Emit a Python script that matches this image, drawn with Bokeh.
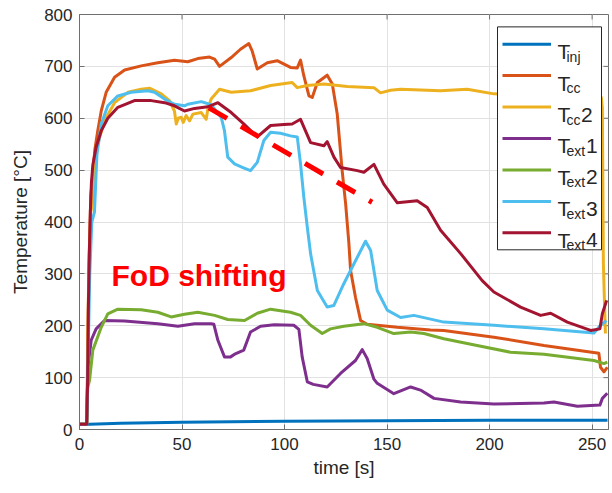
from bokeh.plotting import figure
from bokeh.models import Range1d, Label, ColumnDataSource, FixedTicker, BoxAnnotation
from bokeh.embed import file_html
from bokeh.resources import INLINE

FONT = "Liberation Sans"

# ---------------- data ----------------
x_ticks = [0, 50, 100, 150, 200, 250]
y_ticks = [0, 100, 200, 300, 400, 500, 600, 700, 800]

t_inj = [0, 5, 20, 50, 100, 150, 200, 257.5]
T_inj = [10, 10, 12, 14, 16, 17, 18, 18]

t_cc = [0, 3.5, 4.0, 4.5, 5.5, 6.5, 7.5, 8.9, 10.6, 13.0, 17.1, 22.0, 30.1, 38.2, 46.3, 52.8, 57.7,
        63.4, 65.9, 68.3, 74.0, 78.5, 82.6, 84.2, 86.7, 91.6, 96.4, 102.9, 106.2, 107.8, 109.4, 111.9,
        113.5, 116.0, 120.8, 123.3, 125.7, 128.1, 129.8, 131.4, 132.2, 134.6, 137.1, 140.3, 155.0,
        171.2, 177.7, 202.1, 226.5, 253.3, 254.1, 255.8, 257.4]
T_cc = [10, 10, 120, 300, 450, 493, 540, 576, 614, 650, 679, 693, 701, 707, 712, 709, 715,
        718, 714, 700, 717, 733, 744, 730, 695, 707, 711, 698, 697, 712, 682, 643,
        640, 669, 683, 666, 608, 499, 435, 358, 307, 255, 210, 203, 197,
        192, 191, 178, 162, 147, 120, 111, 120]

t_cc2 = [0, 3.5, 3.8, 4.5, 5.5, 6.5, 7.5, 8.9, 12.2, 17.1, 23.6, 30.1, 34.1, 39.9, 43.9, 46.3, 47.2,
         48.2, 49.6, 50.6, 52.0, 53.7, 55.3, 59.4, 61.8, 62.6, 64.2, 68.3, 74.0, 83.4, 93.2, 103.7,
         106.2, 111.1, 119.2, 130.6, 143.6, 146.8, 151.7, 156.6, 176.1, 189.1, 202.1, 215, 235,
         254.5, 255.0, 255.5, 256.0, 256.5]
T_cc2 = [10, 10, 100, 300, 420, 440, 530, 550, 595, 630, 650, 656, 658, 647, 634, 614, 589,
         600, 602, 592, 605, 595, 608, 611, 598, 618, 637, 656, 650, 653, 663, 669,
         659, 663, 666, 661, 659, 649, 654, 656, 653, 656, 647, 645, 642,
         640, 620, 320, 250, 185]

t_ext1 = [0, 3.5, 4.0, 4.1, 5.7, 8.1, 12.2, 22, 38.2, 48, 56.1, 64.2, 65.5, 67.5, 70.7, 73.7, 76,
          80.1, 83.4, 88.3, 95, 104.5, 107, 108.6, 111.1, 114, 120.8, 127.3, 134.6, 137.9, 140.3,
          143.6, 145.2, 153.3, 161.5, 166.3, 172.9, 185.9, 202.1, 226.5, 231.4, 242.8, 253.8,
          255, 257.4]
T_ext1 = [10, 10, 100, 120, 172, 194, 210, 209, 204, 199, 204, 204, 203, 172, 140, 140, 146,
          153, 188, 199, 202, 201, 193, 140, 92, 87, 82, 108, 133, 154, 137,
          97, 89, 69, 82, 76, 60, 53, 49, 51, 53, 45, 47,
          60, 70]

t_ext2 = [0, 3.5, 4.0, 4.9, 6.5, 10.6, 13.8, 18.7, 30.1, 38.2, 44.7, 51.2, 57.7, 65.9, 72.3, 80.5,
          86.7, 93.2, 102.9, 107.8, 112.7, 118.4, 122.4, 128.9, 138.7, 145.2, 153.3, 161.5, 168,
          177.7, 193.9, 210.2, 226.5, 250.9, 255.8, 257.4]
T_ext2 = [10, 10, 80, 95, 153, 197, 223, 232, 231, 226, 217, 222, 226, 220, 212, 210,
          224, 232, 226, 220, 201, 185, 194, 199, 204, 197, 185, 188, 185,
          175, 162, 149, 145, 133, 127, 130]

t_ext3 = [0, 3.5, 4.0, 5.0, 6.0, 7.3, 8.5, 10.6, 13.8, 18.7, 25.2, 33.3, 36.6, 41.5, 46.3, 51.2,
          52.8, 59.4, 64.2, 69.1, 70.7, 72.3, 75.6, 79.7, 83.4, 86.7, 89.9, 93.2, 98, 102.9, 106.2,
          107.8, 109.4, 111.1, 112.7, 116, 120.8, 124, 128.9, 133.8, 139.5, 142, 145.2, 150.1,
          156.6, 163.1, 177.7, 202.1, 226.5, 250.9, 254.1, 257]
T_ext3 = [10, 10, 100, 300, 400, 419, 530, 589, 624, 643, 650, 653, 650, 637, 627, 624,
          627, 632, 626, 602, 576, 525, 512, 505, 499, 515, 557, 573, 571, 566, 564,
          512, 448, 390, 339, 268, 236, 239, 281, 319, 363, 345, 268, 230,
          216, 220, 207, 201, 194, 186, 201, 210]

t_ext4 = [0, 3.5, 4.0, 4.3, 4.8, 5.3, 5.8, 6.5, 8.1, 10.6, 13.8, 18.7, 26.8, 35, 41.5, 46.3, 51.2,
          56.1, 62.6, 67.5, 74, 80.1, 86.7, 93.2, 99.7, 103.7, 107.8, 112.7, 119.2, 120.8, 124.1,
          127.3, 135.5, 138.7, 143.6, 148.4, 155, 164.7, 169.6, 176.1, 185.9, 196.4, 202.1, 215.1,
          224.9, 229.8, 237.9, 249.3, 253.8, 255, 257.1]
T_ext4 = [10, 10, 100, 230, 340, 420, 475, 510, 544, 576, 600, 621, 634, 634, 630, 624, 614,
          619, 622, 630, 611, 589, 564, 586, 588, 589, 598, 553, 547, 555, 525,
          505, 499, 496, 511, 473, 437, 441, 428, 384, 339, 287, 265, 236,
          220, 224, 207, 191, 194, 223, 249]

series_t = [t_inj, t_cc, t_cc2, t_ext1, t_ext2, t_ext3, t_ext4]
series_T = [T_inj, T_cc, T_cc2, T_ext1, T_ext2, T_ext3, T_ext4]
series_colors = ["#0072BD", "#D95319", "#EDB120", "#7E2F8E", "#77AC30", "#4DBEEE", "#A2142F"]
legend_subs = ["inj", "cc", "cc", "ext", "ext", "ext", "ext"]
legend_suffix = ["", "", "2", "1", "2", "3", "4"]

fod_t = [63.1, 142.7]
fod_T = [620, 438]
fod_text = "FoD shifting"

# ---------------- figure ----------------
X0, X1 = 0, 258
Y0, Y1 = 0, 800
p = figure(width=612, height=493, x_range=Range1d(X0, X1), y_range=Range1d(Y0, Y1),
           output_backend="svg", toolbar_location=None,
           min_border_left=79, min_border_right=4, min_border_top=14, min_border_bottom=64,
           background_fill_color="white", border_fill_color="white")

AX = "#6f6f6f"
TXT = "#262626"
p.outline_line_color = AX
p.outline_line_width = 1

for ax in (p.xaxis[0], p.yaxis[0]):
    ax.axis_line_color = AX
    ax.major_tick_line_color = AX
    ax.major_tick_in = 5
    ax.major_tick_out = 0
    ax.minor_tick_line_color = None
    ax.major_label_text_font = FONT
    ax.major_label_text_font_size = "17px"
    ax.major_label_text_color = TXT
    ax.axis_label_text_font = FONT
    ax.axis_label_text_font_size = "19px"
    ax.axis_label_text_font_style = "normal"
    ax.axis_label_text_color = TXT

p.xaxis.ticker = FixedTicker(ticks=x_ticks)
p.yaxis.ticker = FixedTicker(ticks=y_ticks)
p.xaxis.axis_label = "time [s]"
p.yaxis.axis_label = "Temperature [°C]"
p.xaxis.major_label_standoff = 8
p.yaxis.major_label_standoff = 7
p.xaxis.axis_label_standoff = 4
p.yaxis.axis_label_standoff = 10

p.xgrid.ticker = FixedTicker(ticks=x_ticks)
p.ygrid.ticker = FixedTicker(ticks=y_ticks)
for g in (p.xgrid[0], p.ygrid[0]):
    g.grid_line_color = "#e2e2e2"
    g.grid_line_width = 1

# inward tick marks on the right and top sides of the box (5 px long)
px_per_s = 529.0 / (X1 - X0)
px_per_deg = 415.7 / (Y1 - Y0)
rt = [v for v in y_ticks if Y0 < v < Y1]
tt_ = [v for v in x_ticks if X0 < v < X1]
p.segment(x0=[X1 - 5 / px_per_s] * len(rt), x1=[X1] * len(rt), y0=rt, y1=rt,
          line_color=AX, line_width=1)
p.segment(x0=tt_, x1=tt_, y0=[Y1 - 5 / px_per_deg] * len(tt_), y1=[Y1] * len(tt_),
          line_color=AX, line_width=1)

for tt, TT, c in zip(series_t, series_T, series_colors):
    p.line(tt, TT, line_color=c, line_width=3, line_join="round")

# red dashed trend line and annotation
p.line(fod_t, fod_T, line_color="#FF0000", line_width=5, line_dash="21 16", line_cap="butt")

# pixel -> data helpers (frame spans px 79..608 and 13.6..429.3 of the page)
def dx(px):
    return X0 + (px - 79.0) * (X1 - X0) / (608.0 - 79.0)

def dy(py):
    return Y0 + (429.3 - py) * (Y1 - Y0) / (429.3 - 13.6)

p.add_layout(Label(x=dx(111), y=dy(275), text=fod_text, text_font=FONT, text_font_size="30px",
                   text_font_style="bold", text_color="#FF0000", text_baseline="alphabetic"))

# ---------------- legend (box, samples, TeX-like labels) ----------------
p.add_layout(BoxAnnotation(left=dx(497), right=dx(601), top=dy(26), bottom=dy(249.3),
                           fill_color="white", fill_alpha=1.0, line_color=TXT, line_width=1,
                           line_alpha=1.0))
ly = [43.3 + i * 31.5 for i in range(len(series_colors))]
seg_src = ColumnDataSource(dict(x0=[dx(502)] * len(ly), x1=[dx(550.5)] * len(ly),
                                y=[dy(v) for v in ly], c=series_colors))
r = p.segment(x0="x0", x1="x1", y0="y", y1="y", line_color="c", line_width=3, source=seg_src)
r.level = "overlay"

for yy, sub, suf in zip(ly, legend_subs, legend_suffix):
    p.add_layout(Label(x=dx(557), y=dy(yy + 7.5), text="T", text_font=FONT, text_font_size="21px",
                       text_color=TXT, text_baseline="alphabetic", level="overlay"))
    p.add_layout(Label(x=dx(566), y=dy(yy + 12.5), text=sub, text_font=FONT, text_font_size="14px",
                       text_color=TXT, text_baseline="alphabetic", level="overlay"))
    if suf:
        sx = 580.5 if sub == "cc" else 585.5
        p.add_layout(Label(x=dx(sx), y=dy(yy + 7.5), text=suf, text_font=FONT, text_font_size="21px",
                           text_color=TXT, text_baseline="alphabetic", level="overlay"))

open("out.html", "w").write(file_html(p, INLINE))
